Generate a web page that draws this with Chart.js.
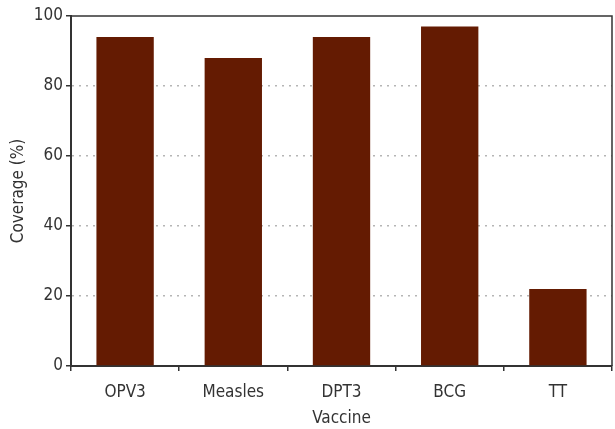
<!DOCTYPE html>
<html><head><meta charset="utf-8">
<script src="https://cdn.jsdelivr.net/npm/chart.js@4/dist/chart.umd.min.js"></script>
<style>html,body{margin:0;padding:0;background:#fff}#w{width:615px;height:429px}</style>
</head><body><div id="w"><canvas id="c"></canvas></div>
<script>
const categories = ["OPV3", "Measles", "DPT3", "BCG", "TT"];
const coverage = [94, 88, 94, 97, 22];
const yTicks = [0, 20, 40, 60, 80, 100];
const FONT = "'DejaVu Sans Condensed', 'Liberation Sans Narrow', 'DejaVu Sans', sans-serif";
const frame = {
  id: 'frame',
  afterDatasetsDraw(chart) {
    const a = chart.chartArea, ctx = chart.ctx;
    ctx.save();
    ctx.strokeStyle = '#333'; ctx.lineWidth = 1.5;
    ctx.beginPath();
    ctx.moveTo(a.left, a.top); ctx.lineTo(a.right, a.top); ctx.lineTo(a.right, a.bottom);
    ctx.stroke();
    ctx.restore();
  }
};
new Chart(document.getElementById('c'), {
  type: 'bar',
  data: { labels: categories, datasets: [{ data: coverage, backgroundColor: '#641b02', barPercentage: 0.53, categoryPercentage: 1 }] },
  options: {
    responsive: true, maintainAspectRatio: false, animation: false,
    layout: { padding: { top: 16, right: 3, left: 0, bottom: 0 } },
    plugins: { legend: { display: false }, tooltip: { enabled: false } },
    scales: {
      x: {
        afterFit(s) { s.height = 63; },
        grid: { offset: true, drawOnChartArea: false, tickLength: 5, color: '#333', lineWidth: 1.5 },
        border: { color: '#333', width: 2 },
        ticks: { color: '#333', font: { family: FONT, size: 17 }, padding: 11 },
        title: { display: true, text: 'Vaccine', color: '#333', font: { family: FONT, size: 17 }, padding: { top: 6, bottom: 0 } }
      },
      y: {
        min: 0, max: 100,
        afterFit(s) { s.width = 71; },
        afterBuildTicks(s) { s.ticks = yTicks.map(v => ({ value: v })); },
        grid: { tickLength: 5, color: c => (c.tick && (c.tick.value === 0 || c.tick.value === 100)) ? 'rgba(0,0,0,0)' : '#b5b5b5', tickColor: '#333', lineWidth: 1.5 },
        border: { color: '#333', width: 2, dash: [2, 5] },
        ticks: { color: '#333', font: { family: FONT, size: 17 }, padding: 3 },
        title: { display: true, text: 'Coverage (%)', color: '#333', font: { family: FONT, size: 17 }, padding: { top: 8, bottom: 0 } }
      }
    }
  },
  plugins: [frame]
});
</script></body></html>
